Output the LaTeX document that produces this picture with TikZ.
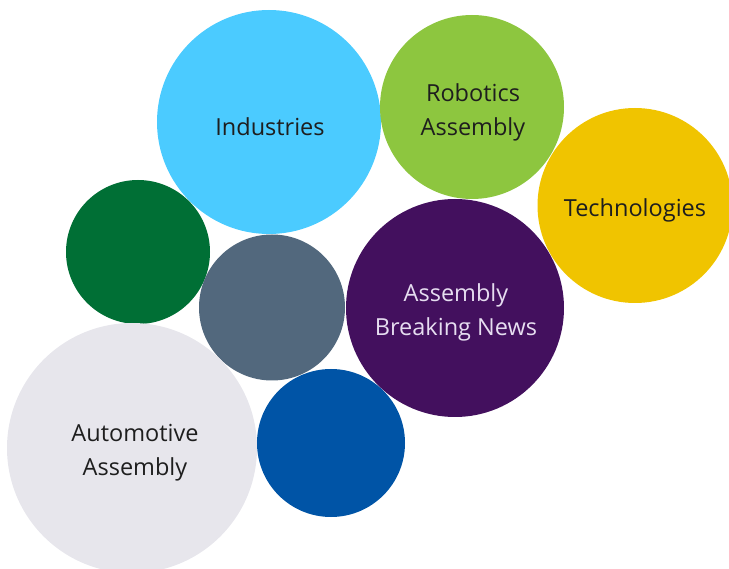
\documentclass[tikz,border=0pt]{standalone}
\usepackage{fontspec}
\setmainfont{Open Sans}
\definecolor{cInd}{HTML}{4BCBFF}
\definecolor{cRob}{HTML}{8DC63F}
\definecolor{cTech}{HTML}{F0C400}
\definecolor{cDG}{HTML}{006F35}
\definecolor{cSlate}{HTML}{52687D}
\definecolor{cPurp}{HTML}{43105E}
\definecolor{cLG}{HTML}{E7E6EC}
\definecolor{cBlue}{HTML}{0054A6}
\definecolor{cTxt}{HTML}{1E1E1E}
\definecolor{cLav}{HTML}{E6DDF0}
\begin{document}
\begin{tikzpicture}[x=1pt,y=-1pt,
  bubble/.style={circle,inner sep=0pt,minimum size=#1},
  lbl/.style={align=center,font=\fontsize{23.5}{34}\selectfont,text=cTxt}]
\useasboundingbox (0,0) rectangle (729,569);
\clip (0,0) rectangle (729,569);
\node[bubble=224pt,fill=cInd] (ind) at (269,122) {};
\node[bubble=184pt,fill=cRob] (rob) at (472,107) {};
\node[bubble=195pt,fill=cTech] (tech) at (635,205.5) {};
\node[bubble=144pt,fill=cDG] (dg) at (138,252) {};
\node[bubble=146pt,fill=cSlate] (sl) at (272,307.5) {};
\node[bubble=218pt,fill=cPurp] (news) at (455,308) {};
\node[bubble=250pt,fill=cLG] (auto) at (132,448) {};
\node[bubble=148pt,fill=cBlue] (bl) at (331,443) {};
\node[lbl] (tind) at (270,127) {Industries};
\node[lbl] (trob) at (473,112.5) {Robotics\\Assembly};
\node[lbl] (ttech) at (635,210) {Technologies};
\node[lbl,text=cLav] (tnews) at (456,312.5) {Assembly\\Breaking News};
\node[lbl] (tauto) at (135,452.5) {Automotive\\Assembly};
\end{tikzpicture}
\end{document}
